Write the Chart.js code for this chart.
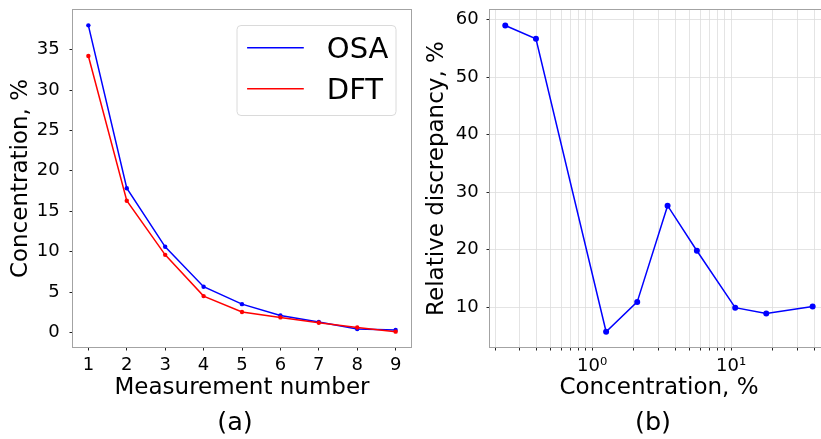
<!DOCTYPE html>
<html>
<head>
<meta charset="utf-8">
<script src="https://cdn.jsdelivr.net/npm/chart.js@4.4.1/dist/chart.umd.min.js"></script>
<style>
  html, body { margin: 0; padding: 0; background: #fff; overflow: hidden; width: 821px; height: 439px; }
  #boxA { position: absolute; left: 0; top: 0; }
  #boxB { position: absolute; left: 415px; top: 0; }
</style>
</head>
<body>
<div id="boxA"><canvas id="chartA" width="415" height="439"></canvas></div>
<div id="boxB"><canvas id="chartB" width="425" height="439"></canvas></div>
<script>
// (a) concentration per measurement
const measurement = [1, 2, 3, 4, 5, 6, 7, 8, 9];
const osa = [38.0, 17.85, 10.6, 5.66, 3.5, 2.1, 1.29, 0.42, 0.3];
const dft = [34.2, 16.3, 9.6, 4.5, 2.53, 1.86, 1.2, 0.62, 0.1];
const ticksA_x = [1, 2, 3, 4, 5, 6, 7, 8, 9];
const ticksA_y = [0, 5, 10, 15, 20, 25, 30, 35];

// (b) relative discrepancy vs concentration (log x)
const concentration = [0.237, 0.394, 1.26, 2.11, 3.49, 5.67, 10.7, 17.9, 38.6];
const discrepancy = [59.0, 56.7, 5.7, 10.9, 27.65, 19.8, 9.9, 8.9, 10.1];
const ticksB_y = [10, 20, 30, 40, 50, 60];
const ticksB_xMajor = [1, 10];
const ticksB_xMajorLabels = ['10⁰', '10¹'];
const ticksB_xMinor = [0.2, 0.3, 0.4, 0.5, 0.6, 0.7, 0.8, 0.9, 2, 3, 4, 5, 6, 7, 8, 9, 20, 30, 40];

Chart.defaults.font.family = "'DejaVu Sans'";
Chart.defaults.color = '#000';
Chart.defaults.animation = false;

const font = "'DejaVu Sans'";
const tickCol = '#222';

// gray box round the plot area
const framePlugin = {
  id: 'frame',
  beforeDatasetsDraw(chart) {
    const {ctx, chartArea: a} = chart;
    ctx.save();
    ctx.strokeStyle = '#a3a3a3';
    ctx.lineWidth = 1;
    ctx.strokeRect(a.left - 0.5, a.top - 0.5, a.right - a.left + 1, a.bottom - a.top + 1);
    ctx.restore();
  }
};

// matplotlib-like legend inside the plot
const legendBox = {
  id: 'legendBox',
  afterDraw(chart) {
    const {ctx, chartArea: a} = chart;
    const x0 = a.right - 174.5, y0 = a.top + 15, w = 159, h = 90;
    ctx.save();
    ctx.fillStyle = 'rgba(255,255,255,0.8)';
    ctx.strokeStyle = '#dadada';
    ctx.lineWidth = 1;
    ctx.beginPath();
    ctx.roundRect(x0 + 0.5, y0 + 0.5, w, h, 4);
    ctx.fill();
    ctx.stroke();
    chart.data.datasets.forEach((ds, i) => {
      const y = y0 + 22.7 + i * 41;
      ctx.strokeStyle = ds.borderColor;
      ctx.lineWidth = 1.5;
      ctx.beginPath();
      ctx.moveTo(x0 + 10.6, y);
      ctx.lineTo(x0 + 67.3, y);
      ctx.stroke();
      ctx.fillStyle = '#000';
      ctx.font = '29px ' + font;
      ctx.textBaseline = 'alphabetic';
      ctx.fillText(ds.label, x0 + 90.3, y + 10);
    });
    ctx.restore();
  }
};

// "(a)" / "(b)" under the axes
const captionPlugin = {
  id: 'caption',
  afterDraw(chart, args, opts) {
    const {ctx, chartArea: a} = chart;
    ctx.save();
    ctx.fillStyle = '#000';
    ctx.font = '25.5px ' + font;
    ctx.textAlign = 'center';
    ctx.textBaseline = 'alphabetic';
    ctx.fillText(opts.text, (a.left + a.right) / 2 + opts.dx, opts.y);
    ctx.restore();
  }
};

function fixTicks(list) {
  return scale => { scale.ticks = list.map(v => ({value: v})); };
}

// fixed axis sizes, no extra padding for edge labels
function fitX(h) {
  return s => { s.height = h; s.paddingLeft = 0; s.paddingRight = 0; };
}
function fitY(w) {
  return s => { s.width = w; s.paddingTop = 0; s.paddingBottom = 0; };
}

new Chart(document.getElementById('chartA'), {
  type: 'line',
  data: {
    datasets: [{
      label: 'OSA',
      data: measurement.map((m, i) => ({x: m, y: osa[i]})),
      borderColor: '#0000ff',
      backgroundColor: '#0000ff',
      borderWidth: 1.5,
      pointRadius: 2.2,
      pointBorderWidth: 0,
      order: 1
    }, {
      label: 'DFT',
      data: measurement.map((m, i) => ({x: m, y: dft[i]})),
      borderColor: '#ff0000',
      backgroundColor: '#ff0000',
      borderWidth: 1.5,
      pointRadius: 2.2,
      pointBorderWidth: 0,
      order: 0
    }]
  },
  options: {
    responsive: false,
    layout: {padding: {left: 0, top: 10, right: 4, bottom: 33}},
    plugins: {
      legend: {display: false},
      tooltip: {enabled: false},
      caption: {text: '(a)', dx: -7, y: 430}
    },
    scales: {
      x: {
        type: 'linear',
        min: 0.6,
        max: 9.4,
        afterBuildTicks: fixTicks(ticksA_x),
        afterFit: fitX(59),
        border: {display: false},
        grid: {drawOnChartArea: false, tickLength: 3.5, tickColor: tickCol, tickWidth: 1},
        ticks: {font: {size: 18}, padding: 4.2, autoSkip: false, maxRotation: 0},
        title: {display: true, text: 'Measurement number', font: {size: 23}, padding: {top: 0, bottom: 4.2}}
      },
      y: {
        min: -1.8,
        max: 39.9,
        afterBuildTicks: fixTicks(ticksA_y),
        afterFit: fitY(73),
        border: {display: false},
        grid: {drawOnChartArea: false, tickLength: 3.5, tickColor: tickCol, tickWidth: 1},
        ticks: {font: {size: 18}, padding: 9.8},
        title: {display: true, text: 'Concentration, %', font: {size: 23}, padding: {top: 7.6, bottom: 0}}
      }
    }
  },
  plugins: [framePlugin, legendBox, captionPlugin]
});

new Chart(document.getElementById('chartB'), {
  type: 'line',
  data: {
    datasets: [{
      label: 'Relative discrepancy',
      data: concentration.map((c, i) => ({x: c, y: discrepancy[i]})),
      borderColor: '#0000ff',
      backgroundColor: '#0000ff',
      borderWidth: 1.5,
      pointRadius: 3,
      pointBorderWidth: 0
    }]
  },
  options: {
    responsive: false,
    layout: {padding: {left: 0, top: 10, right: 12, bottom: 33}},
    plugins: {
      legend: {display: false},
      tooltip: {enabled: false},
      caption: {text: '(b)', dx: -6, y: 430}
    },
    scales: {
      x: {
        type: 'logarithmic',
        min: 0.184,
        max: 49.8,
        afterBuildTicks: s => {
          s.ticks = ticksB_xMinor.concat(ticksB_xMajor).sort((a, b) => a - b).map(v => ({value: v}));
        },
        afterFit: fitX(59),
        border: {display: false},
        grid: {color: '#dddddd', lineWidth: 0.8, tickLength: 3.5, tickColor: tickCol, tickWidth: 1},
        ticks: {
          font: {size: 18},
          padding: 5.5,
          autoSkip: false,
          maxRotation: 0,
          callback: v => {
            const k = ticksB_xMajor.indexOf(v);
            return k >= 0 ? ticksB_xMajorLabels[k] : '';
          }
        },
        title: {display: true, text: 'Concentration, %', font: {size: 23}, padding: {top: 0, bottom: 4.2}}
      },
      y: {
        min: 3.05,
        max: 61.7,
        afterBuildTicks: fixTicks(ticksB_y),
        afterFit: fitY(75),
        border: {display: false},
        grid: {color: '#dddddd', lineWidth: 0.8, tickLength: 3.5, tickColor: tickCol, tickWidth: 1},
        ticks: {font: {size: 18}, padding: 7.8},
        title: {display: true, text: 'Relative discrepancy, %', font: {size: 23}, padding: {top: 7.9, bottom: 0}}
      }
    }
  },
  plugins: [framePlugin, captionPlugin]
});
</script>
</body>
</html>
